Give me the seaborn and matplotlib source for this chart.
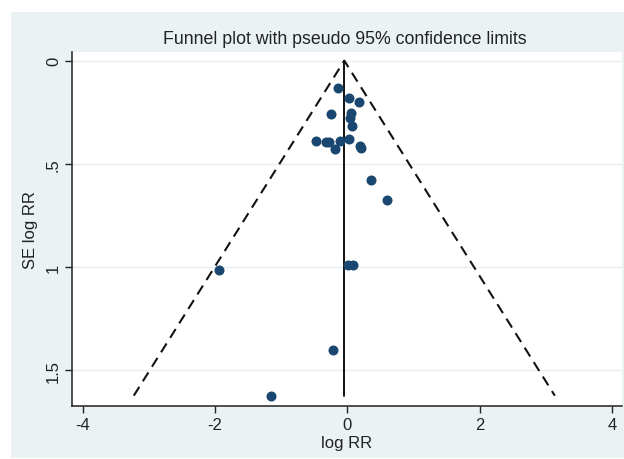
import matplotlib
matplotlib.use("Agg")
import matplotlib.pyplot as plt
import seaborn as sns
import pandas as pd
import numpy as np
from matplotlib.patches import Rectangle

# ---- data ----
log_rr = [-0.138, 0.029, 0.180, -0.248, 0.050, 0.039, 0.074, -0.480, -0.328,
          -0.274, -0.188, -0.107, 0.029, 0.195, 0.206, 0.357, 0.604, -1.943,
          0.005, 0.089, -0.213, -1.160]
se_log_rr = [0.132, 0.181, 0.199, 0.258, 0.255, 0.279, 0.315, 0.390, 0.395,
             0.392, 0.429, 0.389, 0.379, 0.413, 0.424, 0.579, 0.676, 1.015,
             0.988, 0.988, 1.402, 1.622]
pooled_log_rr = -0.047
x_ticks = [-4, -2, 0, 2, 4]
y_ticks = [0, 0.5, 1, 1.5]
y_tick_labels = ["0", ".5", "1", "1.5"]
title = "Funnel plot with pseudo 95% confidence limits"
x_label = "log RR"
y_label = "SE log RR"

df = pd.DataFrame({"log_rr": log_rr, "se": se_log_rr})

sns.set_theme(style="white")
plt.rcParams["font.family"] = ["Liberation Sans", "DejaVu Sans"]

fig = plt.figure(figsize=(6.24, 4.6), dpi=100, facecolor="white")
panel_col = "#EAF2F3"
fig.patches.append(Rectangle((11 / 624, 1 / 460), 1 - 11 / 624, (459 - 13) / 460,
                             transform=fig.transFigure, facecolor=panel_col,
                             edgecolor="none", zorder=-10))

ax = fig.add_axes([72 / 624, (460 - 407) / 460, (621.5 - 72) / 624, (407 - 53) / 460])
ax.set_zorder(1)
ax.set_facecolor("white")

# gridlines
for yv in y_ticks:
    ax.axhline(yv, color="#E6EEF0", lw=1.0, zorder=0)

# funnel limits
max_se = max(se_log_rr)
funnel = pd.DataFrame({
    "x": [pooled_log_rr - 1.96 * max_se, pooled_log_rr, pooled_log_rr + 1.96 * max_se],
    "y": [max_se, 0.0, max_se],
})
ax.plot(funnel["x"], funnel["y"], color="#111111", lw=1.5, ls=(0, (5.0, 3.2)), zorder=2)
ax.plot([pooled_log_rr, pooled_log_rr], [0.0, max_se], color="#111111", lw=1.4, zorder=2)

sns.scatterplot(data=df, x="log_rr", y="se", ax=ax, color="#1A476F", s=52,
                edgecolor="#1A476F", linewidth=0, zorder=3, legend=False)

ax.set_xlim(-4.159, 4.139)
ax.set_ylim(1.672, -0.042)
ax.set_xticks(x_ticks)
ax.set_xticklabels([str(t) for t in x_ticks])
ax.set_yticks(y_ticks)
ax.set_yticklabels(y_tick_labels, rotation=90, va="center")

for s in ["top", "right"]:
    ax.spines[s].set_visible(False)
for s in ["left", "bottom"]:
    ax.spines[s].set_color("#222222")
    ax.spines[s].set_linewidth(1.1)

ax.tick_params(axis="both", which="major", direction="out", length=5, width=1,
               color="#222222", labelsize=12, labelcolor="#222222", pad=3, left=True, bottom=True)

ax.set_xlabel(x_label, fontsize=12, color="#222222", labelpad=2)
ax.set_ylabel(y_label, fontsize=12, color="#222222", labelpad=6)
fig.text(345 / 624, 1 - 39 / 460, title, ha="center", va="center",
         fontsize=12.8, color="#222222")

fig.savefig("out.png", dpi=100, facecolor="white")
